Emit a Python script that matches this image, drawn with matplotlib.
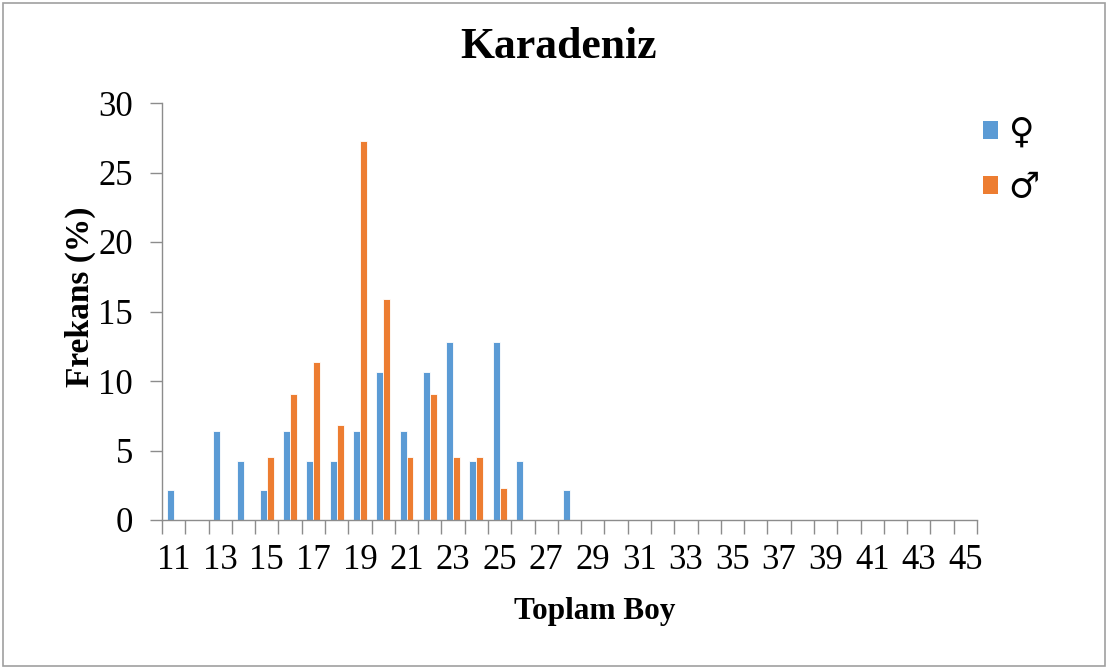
import matplotlib
matplotlib.use("Agg")
import matplotlib.pyplot as plt
import numpy as np
from matplotlib.patches import Patch, Rectangle

categories = list(range(11, 46))
female = [2.13, 0, 6.38, 4.26, 2.13, 6.38, 4.26, 4.26, 6.38, 10.64, 6.38, 10.64,
          12.77, 4.26, 12.77, 4.26, 0, 2.13] + [0] * 17
male = [0, 0, 0, 0, 4.55, 9.09, 11.36, 6.82, 27.27, 15.91, 4.55, 9.09,
        4.55, 4.55, 2.27] + [0] * 20
series_labels = ["\u2640", "\u2642"]
title = "Karadeniz"
xlabel = "Toplam Boy"
ylabel = "Frekans (%)"

blue = "#5B9BD5"
orange = "#ED7D31"
axis_gray = "#8C8C8C"
serif = ["Liberation Serif", "DejaVu Serif"]

fig = plt.figure(figsize=(11.08, 6.68), dpi=100)
ax = fig.add_axes([162 / 1108, 1 - 520 / 668, 815 / 1108, 417 / 668])

x = np.arange(len(categories))
w = 0.3
ax.bar(x - w / 2, female, width=w, color=blue, edgecolor="white", linewidth=0.6, label=series_labels[0])
ax.bar(x + w / 2, male, width=w, color=orange, edgecolor="white", linewidth=0.6, label=series_labels[1])

ax.set_xlim(-0.5, len(categories) - 0.5)
ax.set_ylim(0, 30)
ax.set_yticks(range(0, 31, 5))

ax.set_xticks(np.arange(-0.5, len(categories), 1.0))
ax.set_xticklabels([])
ax.set_xticks(x[::2], minor=True)
ax.set_xticklabels([str(c) for c in categories[::2]], minor=True, fontfamily=serif, fontsize=25)
ax.tick_params(axis="x", which="major", length=10, width=1, color=axis_gray, direction="out")
ax.tick_params(axis="x", which="minor", length=0, pad=17)
ax.tick_params(axis="y", length=9, width=1, color=axis_gray, direction="out", pad=12)
for lab in ax.get_yticklabels():
    lab.set_fontfamily(serif)
    lab.set_fontsize(25)

for s in ["top", "right"]:
    ax.spines[s].set_visible(False)
for s in ["left", "bottom"]:
    ax.spines[s].set_color(axis_gray)
    ax.spines[s].set_linewidth(1)

fig.text(558.5 / 1108, 1 - 47 / 668, title, ha="center", va="center", fontfamily=serif,
         fontsize=31.5, fontweight="bold")
fig.text(595 / 1108, 1 - 612 / 668, xlabel, ha="center", va="center", fontfamily=serif,
         fontsize=22.5, fontweight="bold")
fig.text(80 / 1108, 1 - 297 / 668, ylabel, ha="center", va="center", rotation=90,
         fontfamily=serif, fontsize=24, fontweight="bold")

handles = [Patch(facecolor=blue, edgecolor="none"), Patch(facecolor=orange, edgecolor="none")]
leg = fig.legend(handles, series_labels, loc="upper left", bbox_to_anchor=(952 / 1108, 1 - 84 / 668),
                 frameon=False, handlelength=0.42, handleheight=0.42, handletextpad=0.3,
                 labelspacing=0.6, prop={"family": "DejaVu Sans", "size": 25})

fig.patches.append(Rectangle((3 / 1108, 2 / 668), 1102 / 1108, 663 / 668, transform=fig.transFigure,
                             fill=False, edgecolor="#A0A0A0", linewidth=1.2))

fig.savefig("out.png", dpi=100)
